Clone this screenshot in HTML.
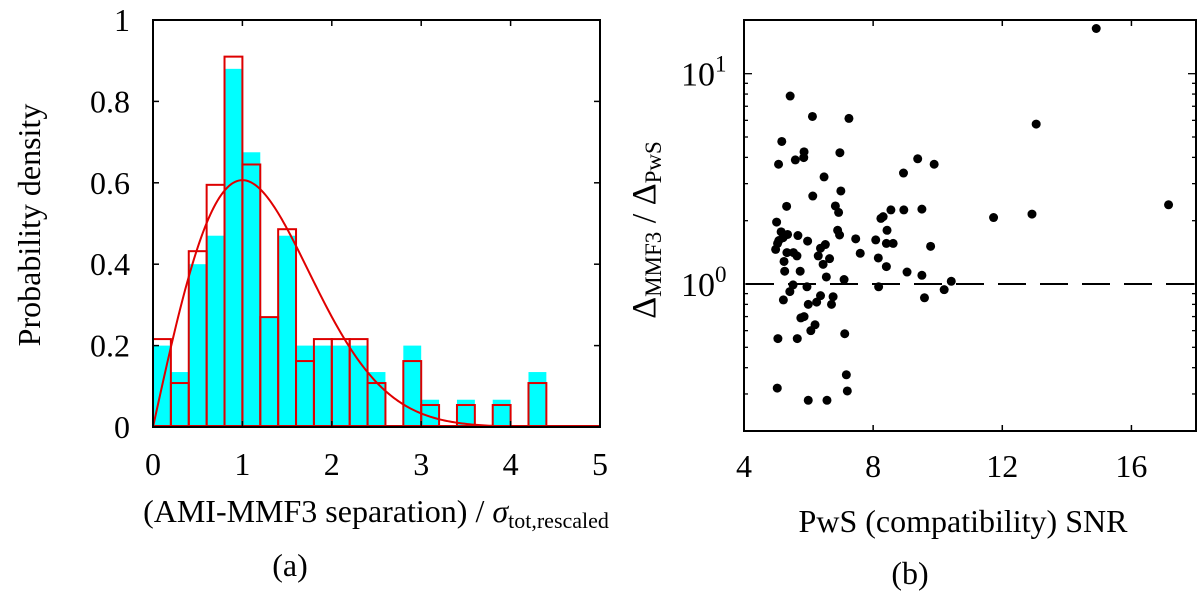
<!DOCTYPE html>
<html><head><meta charset="utf-8"><style>
html,body{margin:0;padding:0;background:#fff;width:1200px;height:598px;overflow:hidden}
svg{display:block;font-family:"Liberation Serif",serif}
svg text{font-family:"Liberation Serif",serif}
</style></head><body>
<svg id="fig" width="1200" height="598" viewBox="0 0 1200 598" xmlns="http://www.w3.org/2000/svg">
<g id="pa"></g>
<g id="pb"></g>
</svg>
<script>
// ---- Panel (a) data ----
const binEdgesStart = [0,0.2,0.4,0.6,0.8,1.0,1.2,1.4,1.6,1.8,2.0,2.2,2.4,2.6,2.8,3.0,3.2,3.4,3.6,3.8,4.0,4.2];
const cyanValues = [0.20,0.135,0.40,0.47,0.88,0.675,0.27,0.47,0.20,0.20,0.20,0.20,0.135,0,0.20,0.067,0,0.067,0,0.067,0,0.135];
const redValues  = [0.216,0.108,0.432,0.595,0.91,0.645,0.27,0.486,0.162,0.216,0.216,0.216,0.108,0,0.162,0.054,0,0.054,0,0.054,0,0.108];
const binWidth = 0.2;
const rayleighSigma = 1.0;
const aXTicks = [0,1,2,3,4,5];
const aYTicks = [0,0.2,0.4,0.6,0.8,1];
const aYTickLabels = ["0","0.2","0.4","0.6","0.8","1"];
// ---- Panel (b) data ----
const snrValues = [14.91,5.43,6.12,7.25,13.05,5.17,5.07,5.59,5.86,5.85,6.97,9.38,9.89,8.94,6.48,7.00,6.13,5.32,6.83,6.93,8.55,8.95,9.51,8.31,8.24,11.73,12.92,17.15,5.01,5.15,5.35,5.67,5.08,5.04,4.98,5.21,5.97,6.90,6.96,7.46,8.08,8.43,8.41,8.62,9.78,6.52,6.37,7.60,5.33,5.53,5.64,6.30,6.65,5.24,6.45,8.16,8.41,5.26,5.74,9.05,9.51,6.55,7.10,10.42,5.52,5.95,8.17,5.42,10.20,6.37,6.76,5.22,6.25,5.99,6.71,9.59,5.86,5.76,6.20,6.07,7.12,5.05,5.65,7.17,5.03,7.20,5.99,6.57];
const ratioValues = [16.4,7.83,6.26,6.13,5.76,4.76,3.71,3.89,4.25,3.99,4.21,3.94,3.71,3.37,3.23,2.77,2.62,2.34,2.35,2.19,2.25,2.25,2.27,2.09,2.05,2.07,2.15,2.38,1.97,1.77,1.72,1.70,1.61,1.56,1.46,1.66,1.60,1.80,1.71,1.64,1.62,1.80,1.56,1.56,1.51,1.54,1.48,1.40,1.41,1.41,1.36,1.36,1.32,1.28,1.24,1.33,1.21,1.15,1.15,1.14,1.10,1.08,1.05,1.03,0.99,0.97,0.97,0.92,0.94,0.88,0.87,0.84,0.82,0.80,0.80,0.86,0.70,0.69,0.64,0.60,0.58,0.55,0.55,0.37,0.32,0.31,0.28,0.28];
const bXTicks = [4,8,12,16];
const bYMajor = [1,10];
const bYMajorExp = ["0","1"];
const refLine = 1;

const NS="http://www.w3.org/2000/svg";
const SERIF='"Liberation Serif", serif';
function mk(parent,tag,attrs,name){const e=document.createElementNS(NS,tag);for(const k in attrs)e.setAttribute(k,attrs[k]);
if(tag==='text')e.setAttribute('font-family',SERIF);


parent.appendChild(e);return e;}

// ---- Panel (a) ----
const pa=document.getElementById('pa');
const aL=153,aR=600,aT=20,aB=427;
const ax=v=>aL+(v-0)/(5-0)*(aR-aL);
const ay=v=>aB-(v-0)/(1-0)*(aB-aT);
binEdgesStart.forEach((s,i)=>{ if(cyanValues[i]>0) mk(pa,'rect',{x:ax(s),y:ay(cyanValues[i]),width:ax(s+binWidth)-ax(s),height:ay(0)-ay(cyanValues[i]),fill:'#00ffff'},'cyan-bar');});
binEdgesStart.forEach((s,i)=>{ if(redValues[i]>0) mk(pa,'rect',{x:ax(s),y:ay(redValues[i]),width:ax(s+binWidth)-ax(s),height:ay(0)-ay(redValues[i]),fill:'none',stroke:'#dd0000','stroke-width':2},'red-bar');});
mk(pa,'line',{x1:aL,y1:aB-1,x2:aR,y2:aB-1,stroke:'#cc0000','stroke-width':2},'red-baseline');
let d='';for(let i=0;i<=250;i++){const x=5*i/250;const f=x/(rayleighSigma*rayleighSigma)*Math.exp(-x*x/(2*rayleighSigma*rayleighSigma));d+=(i?'L':'M')+ax(x).toFixed(2)+' '+ay(f).toFixed(2);}
mk(pa,'path',{d:d,fill:'none',stroke:'#e00000','stroke-width':2},'rayleigh-curve');
mk(pa,'rect',{x:aL,y:aT,width:aR-aL,height:aB-aT,fill:'none',stroke:'#000','stroke-width':2},'plot-frame');
aXTicks.forEach(v=>{mk(pa,'line',{x1:ax(v),y1:aB,x2:ax(v),y2:aB-6,stroke:'#000','stroke-width':1.5},'x-tick');mk(pa,'line',{x1:ax(v),y1:aT,x2:ax(v),y2:aT+6,stroke:'#000','stroke-width':1.5},'x-tick-top');
const t=mk(pa,'text',{x:ax(v),y:475,'font-size':32,'text-anchor':'middle'},'x-tick-label');t.textContent=v;});
aYTicks.forEach((v,i)=>{mk(pa,'line',{x1:aL,y1:ay(v),x2:aL+6,y2:ay(v),stroke:'#000','stroke-width':1.5},'y-tick');mk(pa,'line',{x1:aR,y1:ay(v),x2:aR-6,y2:ay(v),stroke:'#000','stroke-width':1.5},'y-tick-right');
const t=mk(pa,'text',{x:130,y:ay(v)+11,'font-size':32,'text-anchor':'end'},'y-tick-label');t.textContent=aYTickLabels[i];});
let t=mk(pa,'text',{x:0,y:0,'font-size':32,'text-anchor':'middle',transform:'translate(40,225) rotate(-90)'},'y-axis-title');t.textContent='Probability density';
t=mk(pa,'text',{x:376,y:522,'font-size':32,'text-anchor':'middle'},'x-axis-title');
t.innerHTML='(AMI-MMF3 separation) / <tspan font-style="italic">σ</tspan><tspan font-size="22" dy="6">tot,rescaled</tspan>';
t=mk(pa,'text',{x:290,y:576,'font-size':32,'text-anchor':'middle'},'panel-label-a');t.textContent='(a)';

// ---- Panel (b) ----
const pb=document.getElementById('pb');
const bL=744,bR=1196,bT=20,bB=431;
const xMin=4,xMax=18,yMinL=Math.log10(0.2),yMaxL=Math.log10(18);
const bx=v=>bL+(v-xMin)/(xMax-xMin)*(bR-bL);
const by=v=>bB-(Math.log10(v)-yMinL)/(yMaxL-yMinL)*(bB-bT);
mk(pb,'line',{x1:bL+2,y1:by(refLine),x2:bR,y2:by(refLine),stroke:'#000','stroke-width':2,'stroke-dasharray':'28 14'},'reference-dashed-line');
snrValues.forEach((x,i)=>mk(pb,'circle',{cx:bx(x),cy:by(ratioValues[i]),r:4.5,fill:'#000'},'scatter-point'));
mk(pb,'rect',{x:bL,y:bT,width:bR-bL,height:bB-bT,fill:'none',stroke:'#000','stroke-width':2},'plot-frame');
bXTicks.forEach(v=>{mk(pb,'line',{x1:bx(v),y1:bB,x2:bx(v),y2:bB-6,stroke:'#000','stroke-width':1.5},'x-tick');mk(pb,'line',{x1:bx(v),y1:bT,x2:bx(v),y2:bT+6,stroke:'#000','stroke-width':1.5},'x-tick-top');
const tt=mk(pb,'text',{x:bx(v),y:477,'font-size':32,'text-anchor':'middle'},'x-tick-label');tt.textContent=v;});
for(let dec=-1;dec<=1;dec++)for(let m=1;m<10;m++){const v=m*Math.pow(10,dec);if(v<0.2||v>18)continue;const len=m===1?8:4;
mk(pb,'line',{x1:bL,y1:by(v),x2:bL+len,y2:by(v),stroke:'#000','stroke-width':1.3},'y-tick');mk(pb,'line',{x1:bR,y1:by(v),x2:bR-len,y2:by(v),stroke:'#000','stroke-width':1.3},'y-tick-right');}
bYMajor.forEach((v,i)=>{const tt=mk(pb,'text',{x:681,y:by(v)+12,'font-size':34},'y-tick-label');tt.innerHTML='10<tspan font-size="23" dy="-14">'+bYMajorExp[i]+'</tspan>';});
t=mk(pb,'text',{x:0,y:0,'font-size':34,'text-anchor':'middle',transform:'translate(655,230) rotate(-90)'},'y-axis-title');
t.innerHTML='Δ<tspan font-size="23" dy="6">MMF3</tspan><tspan dy="-6"> / Δ</tspan><tspan font-size="23" dy="6">PwS</tspan>';
t=mk(pb,'text',{x:963,y:532,'font-size':32,'text-anchor':'middle'},'x-axis-title');t.textContent='PwS (compatibility) SNR';
t=mk(pb,'text',{x:910,y:584,'font-size':32,'text-anchor':'middle'},'panel-label-b');t.textContent='(b)';
</script>
</body></html>
